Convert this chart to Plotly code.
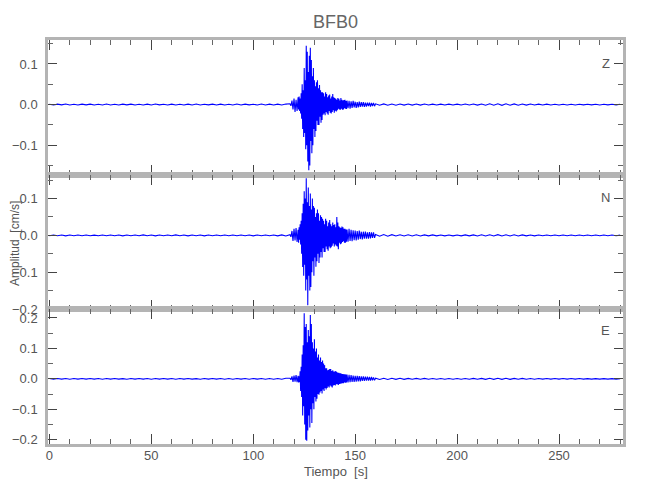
import plotly.graph_objects as go
from plotly.subplots import make_subplots

# ---------------- data ----------------
STATION = "BFB0"
CHANNELS = ["Z", "N", "E"]

# sampling grids of the segments (start, step) in seconds
PRE_START, PRE_STEP = 0.0, 2.0
EV1_START, EV1_STEP = 118.0, 0.5
EV2_START, EV2_STEP = 122.0, 0.25
EV3_START, EV3_STEP = 146.0, 0.5
POST_START, POST_STEP = 160.0, 2.0

# ---- Z ----
z_pre = [0.0008, -0.0012, 0.001, -0.0008, 0.0012, -0.001, 0.0008, -0.0012, 0.0011, -0.0008,
         0.001, -0.0011, 0.0008, -0.0009, 0.0012, -0.001, 0.0009, -0.0012, 0.001, -0.0008,
         0.0011, -0.001, 0.0008, -0.0011, 0.001, -0.0009, 0.0012, -0.0008, 0.0009, -0.001,
         0.0011, -0.0012, 0.0008, -0.001, 0.001, -0.0009, 0.0012, -0.0011, 0.0009, -0.0008,
         0.001, -0.0012, 0.0011, -0.0009, 0.0008, -0.001, 0.0012, -0.0011, 0.001, -0.0008,
         0.0009, -0.001, 0.0012, -0.0009, 0.001, -0.0012, 0.0011, -0.001, 0.0012]
z_ev1 = [0.002, -0.003, 0.010, -0.012, 0.015, -0.018, 0.012, -0.016]
z_ev2 = [0.018, -0.012, 0.020, -0.016,
         0.015, -0.022, 0.028, -0.035,
         0.050, -0.060, 0.035, -0.080,
         0.090, -0.070, 0.060, -0.110,
         0.145, -0.100, 0.130, -0.140,
         0.080, -0.162, 0.120, -0.150,
         0.140, -0.090, 0.110, -0.120,
         0.070, -0.100, 0.090, -0.060,
         0.060, -0.080, 0.045, -0.065,
         0.055, -0.040, 0.060, -0.050,
         0.040, -0.050, 0.048, -0.030,
         0.035, -0.045, 0.030, -0.038,
         0.030, -0.025, 0.028, -0.022,
         0.020, -0.026, 0.030, -0.018,
         0.026, -0.022, 0.018, -0.025,
         0.022, -0.016, 0.025, -0.020,
         0.015, -0.022, 0.020, -0.018,
         0.026, -0.014, 0.018, -0.020,
         0.016, -0.015, 0.014, -0.017,
         0.012, -0.014, 0.016, -0.010,
         0.014, -0.012, 0.010, -0.013,
         0.016, -0.010, 0.012, -0.013,
         0.010, -0.012, 0.011, -0.009,
         0.012, -0.010, 0.009, -0.011]
z_ev3 = [0.010, -0.009, 0.009, -0.010, 0.008, -0.008, 0.009, -0.007, 0.007, -0.008,
         0.006, -0.007, 0.007, -0.006, 0.006, -0.005, 0.006, -0.006, 0.005, -0.005,
         0.005, -0.004, 0.005, -0.005, 0.004, -0.004, 0.004, -0.004]
z_post = [0.0018, -0.0018, 0.0016, -0.0016, 0.0015, -0.0015, 0.0014, -0.0014, 0.0013, -0.0013,
          0.0012, -0.0013, 0.0012, -0.0012, 0.0011, -0.0012, 0.0011, -0.0011, 0.0011, -0.0011,
          0.0011, -0.0012, 0.0012, -0.0012, 0.0013, -0.0014, 0.0015, -0.0016, 0.0018, -0.0017,
          0.0019, -0.0018, 0.0019, -0.0018, 0.0017, -0.0015, 0.0014, -0.0013, 0.0012, -0.0011,
          0.0011, -0.001, 0.001, -0.001, 0.0009, -0.001, 0.0009, -0.0009, 0.0009, -0.0009,
          0.0009, -0.0008, 0.0009, -0.0008, 0.0008, -0.0009, 0.0008, -0.0008, 0.0008, -0.0008,
          0.0008]

# ---- N ----
n_pre = [-0.001, 0.0012, -0.0008, 0.0011, -0.0012, 0.0009, -0.001, 0.0012, -0.0009, 0.001,
         -0.0011, 0.0008, -0.001, 0.0012, -0.0009, 0.0011, -0.001, 0.0009, -0.0012, 0.001,
         -0.0008, 0.0011, -0.001, 0.0013, -0.0009, 0.001, -0.0012, 0.0011, -0.001, 0.0009,
         -0.0011, 0.0013, -0.001, 0.0011, -0.0012, 0.001, -0.0009, 0.0011, -0.0013, 0.001,
         -0.0011, 0.0012, -0.001, 0.0009, -0.0011, 0.0012, -0.001, 0.0011, -0.0009, 0.001,
         -0.0012, 0.0011, -0.001, 0.0012, -0.0011, 0.001, -0.0013, 0.0012, -0.0015]
n_ev1 = [0.002, -0.004, 0.012, -0.015, 0.018, -0.014, 0.020, -0.018]
n_ev2 = [0.015, -0.020, 0.022, -0.012,
         0.030, -0.025, 0.040, -0.050,
         0.060, -0.086, 0.086, -0.110,
         0.120, -0.080, 0.100, -0.150,
         0.155, -0.120, 0.090, -0.190,
         0.130, -0.110, 0.080, -0.150,
         0.114, -0.140, 0.070, -0.100,
         0.100, -0.070, 0.080, -0.110,
         0.075, -0.060, 0.050, -0.085,
         0.060, -0.070, 0.070, -0.050,
         0.060, -0.075, 0.040, -0.060,
         0.055, -0.045, 0.050, -0.060,
         0.045, -0.035, 0.040, -0.045,
         0.030, -0.045, 0.045, -0.030,
         0.040, -0.038, 0.025, -0.042,
         0.035, -0.030, 0.042, -0.035,
         0.030, -0.032, 0.025, -0.028,
         0.035, -0.022, 0.028, -0.030,
         0.030, -0.025, 0.022, -0.028,
         0.050, -0.030, 0.035, -0.038,
         0.025, -0.020, 0.022, -0.024,
         0.020, -0.022, 0.024, -0.018,
         0.022, -0.016, 0.018, -0.020,
         0.018, -0.020, 0.016, -0.017]
n_ev3 = [0.016, -0.017, 0.018, -0.015, 0.015, -0.016, 0.014, -0.013, 0.013, -0.014,
         0.012, -0.012, 0.013, -0.010, 0.010, -0.011, 0.010, -0.009, 0.010, -0.009,
         0.008, -0.009, 0.009, -0.008, 0.008, -0.007, 0.008, -0.007]
n_post = [0.0024, -0.0024, 0.0021, -0.0021, 0.0019, -0.0018, 0.0017, -0.0016, 0.0016, -0.0016,
          0.0015, -0.0015, 0.0014, -0.0013, 0.0013, -0.0013, 0.0012, -0.0012, 0.0012, -0.0012,
          0.0012, -0.0012, 0.0013, -0.0013, 0.0014, -0.0015, 0.0016, -0.0017, 0.0018, -0.0017,
          0.0019, -0.0018, 0.0018, -0.0017, 0.0017, -0.0016, 0.0014, -0.0013, 0.0012, -0.0012,
          0.0012, -0.0011, 0.0011, -0.001, 0.001, -0.0011, 0.001, -0.001, 0.001, -0.001,
          0.001, -0.0009, 0.001, -0.0009, 0.0009, -0.0009, 0.0009, -0.0008, 0.0009, -0.0008,
          0.0008]

# ---- E ----
e_pre = [0.0009, -0.001, 0.0012, -0.0009, 0.001, -0.0012, 0.0009, -0.001, 0.0011, -0.0008,
         0.001, -0.0009, 0.0012, -0.0011, 0.0009, -0.001, 0.0011, -0.0009, 0.0008, -0.0011,
         0.001, -0.0009, 0.0012, -0.001, 0.0009, -0.0011, 0.001, -0.0009, 0.0011, -0.001,
         0.0009, -0.0012, 0.001, -0.0009, 0.0011, -0.001, 0.0008, -0.0011, 0.001, -0.0009,
         0.0012, -0.001, 0.0009, -0.0011, 0.001, -0.0012, 0.0011, -0.0009, 0.001, -0.0011,
         0.0012, -0.001, 0.0011, -0.0012, 0.001, -0.0013, 0.0012, -0.0015, 0.0018]
e_ev1 = [0.002, -0.003, 0.008, -0.010, 0.011, -0.009, 0.012, -0.011]
e_ev2 = [0.010, -0.012, 0.008, -0.011,
         0.025, -0.040, 0.040, -0.060,
         0.080, -0.120, 0.110, -0.090,
         0.215, -0.150, 0.170, -0.200,
         0.180, -0.203, 0.120, -0.170,
         0.160, -0.120, 0.140, -0.160,
         0.210, -0.100, 0.180, -0.145,
         0.120, -0.080, 0.100, -0.100,
         0.130, -0.060, 0.090, -0.074,
         0.100, -0.065, 0.070, -0.050,
         0.080, -0.052, 0.060, -0.045,
         0.070, -0.040, 0.055, -0.048,
         0.060, -0.035, 0.050, -0.040,
         0.045, -0.030, 0.035, -0.035,
         0.035, -0.030, 0.028, -0.025,
         0.030, -0.028, 0.032, -0.022,
         0.032, -0.025, 0.026, -0.028,
         0.028, -0.022, 0.024, -0.020,
         0.024, -0.022, 0.026, -0.018,
         0.022, -0.018, 0.020, -0.020,
         0.020, -0.017, 0.018, -0.016,
         0.018, -0.015, 0.016, -0.014,
         0.016, -0.014, 0.015, -0.012,
         0.015, -0.013, 0.014, -0.012]
e_ev3 = [0.014, -0.012, 0.013, -0.011, 0.012, -0.010, 0.011, -0.010, 0.010, -0.009,
         0.010, -0.008, 0.009, -0.008, 0.008, -0.007, 0.008, -0.007, 0.007, -0.006,
         0.007, -0.006, 0.006, -0.006, 0.006, -0.005, 0.005, -0.005]
e_post = [0.0022, -0.0022, 0.002, -0.002, 0.0019, -0.0018, 0.0017, -0.0017, 0.0016, -0.0015,
          0.0014, -0.0014, 0.0014, -0.0013, 0.0013, -0.0012, 0.0012, -0.0012, 0.0012, -0.0011,
          0.0011, -0.0012, 0.0013, -0.0013, 0.0014, -0.0015, 0.0016, -0.0016, 0.0017, -0.0018,
          0.0018, -0.0017, 0.0018, -0.0017, 0.0016, -0.0015, 0.0014, -0.0013, 0.0012, -0.0011,
          0.0011, -0.001, 0.001, -0.001, 0.001, -0.001, 0.001, -0.0009, 0.0009, -0.0009,
          0.0009, -0.0009, 0.0008, -0.0009, 0.0008, -0.0008, 0.0008, -0.0008, 0.0008, -0.0008,
          0.0008]

Y_RANGES = [[-0.174, 0.159], [-0.2008, 0.1635], [-0.214, 0.2285]]
X_RANGE = [-0.7, 281.4]
X_TICK_STEP, X_MINOR_STEP = 50, 10
Y_TICK_STEP, Y_MINOR_STEP = 0.1, 0.05

# ---------------- build ----------------
def grid(start, step, n):
    return [start + step * i for i in range(n)]

STARTS = [(PRE_START, PRE_STEP), (EV1_START, EV1_STEP), (EV2_START, EV2_STEP),
          (EV3_START, EV3_STEP), (POST_START, POST_STEP)]

def trace_xy(segments):
    t, v = [], []
    for (s0, ds), seg in zip(STARTS, segments):
        t += grid(s0, ds, len(seg))
        v += seg
    return t, v

series = [(z_pre, z_ev1, z_ev2, z_ev3, z_post),
          (n_pre, n_ev1, n_ev2, n_ev3, n_post),
          (e_pre, e_ev1, e_ev2, e_ev3, e_post)]

FONT = "Liberation Sans, Arial, sans-serif"
TXT = "#555555"
AXC = "#b4b4b4"

fig = make_subplots(rows=3, cols=1, shared_xaxes=True, vertical_spacing=0)

for i, segs in enumerate(series):
    t, v = trace_xy(segs)
    fig.add_trace(go.Scatter(x=t, y=v, mode="lines",
                             line=dict(color="#0000ff", width=1.1),
                             showlegend=False, hoverinfo="skip"),
                  row=i + 1, col=1)

domains = [[0.6653, 1.0], [0.3335, 0.6653], [0.0, 0.3335]]
for i in range(3):
    fig.update_xaxes(row=i + 1, col=1, range=X_RANGE, showline=True, linecolor=AXC,
                     linewidth=2.5, mirror="allticks", ticks="inside", ticklen=10,
                     tickwidth=1, tickcolor="#444444", dtick=X_TICK_STEP, tick0=0,
                     minor=dict(dtick=X_MINOR_STEP, tick0=0, ticks="inside", ticklen=5,
                                tickcolor="#666666", tickwidth=1),
                     showgrid=False, zeroline=False, automargin=False,
                     showticklabels=(i == 2), ticklabelstandoff=-2,
                     tickfont=dict(family=FONT, size=13, color=TXT))
    fig.update_yaxes(row=i + 1, col=1, range=Y_RANGES[i], domain=domains[i],
                     showline=True, linecolor=AXC, linewidth=2.5, mirror="allticks",
                     ticks="inside", ticklen=9, tickwidth=1, tickcolor="#444444",
                     dtick=Y_TICK_STEP, tick0=0, tickformat=".1f",
                     minor=dict(dtick=Y_MINOR_STEP, tick0=0, ticks="inside", ticklen=5,
                                tickcolor="#666666", tickwidth=1),
                     showgrid=False, zeroline=False, automargin=False, ticklabelstandoff=5,
                     tickfont=dict(family=FONT, size=13, color=TXT))

ann = [
    dict(text=STATION, x=0.5, y=1.0445, xref="paper", yref="paper", showarrow=False,
         xanchor="center", yanchor="middle", font=dict(family=FONT, size=18, color="#666666")),
    dict(text="Tiempo  [s]", x=0.5, y=-0.0675, xref="paper", yref="paper", showarrow=False,
         xanchor="center", yanchor="middle", font=dict(family=FONT, size=13, color=TXT)),
    dict(text="Amplitud  [cm/s]", x=-0.0575, y=0.4974, xref="paper", yref="paper",
         showarrow=False, textangle=-90, xanchor="center", yanchor="middle",
         font=dict(family=FONT, size=12, color=TXT)),
]
label_y = [0.942, 0.611, 0.280]
for ch, yy in zip(CHANNELS, label_y):
    ann.append(dict(text=ch, x=0.9704, y=yy, xref="paper", yref="paper", showarrow=False,
                    xanchor="center", yanchor="middle",
                    font=dict(family=FONT, size=13, color=TXT)))

fig.update_layout(width=650, height=500, margin=dict(l=48, r=27, t=40, b=56),
                  paper_bgcolor="white", plot_bgcolor="white", annotations=ann)

fig.write_html("out.html", config={"displayModeBar": False},
               post_script="document.body.style.margin='0px';")
